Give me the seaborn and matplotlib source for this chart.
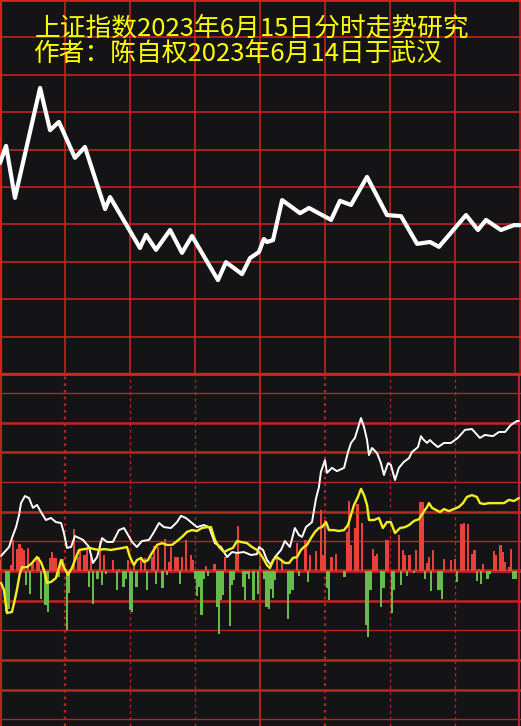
import numpy as np
import pandas as pd
import matplotlib
matplotlib.use("Agg")
import matplotlib.pyplot as plt
import seaborn as sns

# ---- title text ----
TITLE_1 = "上证指数2023年6月15日分时走势研究"
TITLE_2 = "作者：陈自权2023年6月14日于武汉"

# ---- top panel: smoothed index path (minutes after open, grid units) ----
top_minutes = [0, 2.8, 6.9, 18.5, 23.1, 27.2, 34.6, 39.2, 48.5, 50.8,
               64.6, 67.4, 72.0, 78.5, 84.0, 88.6, 100.6, 104.3, 111.7, 115.4,
               119.5, 121.8, 123.2, 126.0, 130.2, 138.5, 142.6, 152.8, 156.9, 162.0,
               169.4, 178.6, 185.1, 192.5, 198.5, 202.6, 215.1, 220.6, 224.3, 231.2,
               237.2, 240.0]
top_values = [5.64, 6.10, 4.71, 7.65, 6.52, 6.74, 5.78, 6.07, 4.41, 4.73,
              3.37, 3.72, 3.32, 3.85, 3.24, 3.69, 2.51, 2.99, 2.67, 3.10,
              3.26, 3.61, 3.53, 3.58, 4.65, 4.30, 4.44, 4.12, 4.63, 4.52,
              5.27, 4.25, 4.22, 3.48, 3.53, 3.40, 4.25, 3.85, 4.12, 3.85,
              3.98, 3.98]

# ---- bottom panel: white line ----
white_minutes = [0.5, 4.2, 5.5, 7.4, 8.8, 9.7, 11.5, 13.4, 15.2, 17.1,
                 18.9, 21.2, 23.5, 25.8, 28.2, 29.5, 30.9, 32.8, 34.6, 38.3,
                 41.1, 42.9, 44.8, 47.1, 49.4, 52.1, 54.9, 57.2, 58.6, 60.9,
                 63.2, 65.5, 68.8, 71.1, 73.4, 75.7, 78.9, 81.7, 83.5, 85.8,
                 88.1, 90.9, 94.1, 96.5, 99.2, 102.0, 104.8, 107.1, 109.4, 112.6,
                 115.8, 118.6, 119.5, 121.4, 123.2, 125.1, 126.9, 129.7, 131.5, 133.8,
                 136.1, 138.0, 139.4, 141.2, 144.0, 145.8, 147.2, 148.1, 150.0, 150.9,
                 153.2, 155.5, 158.8, 160.6, 162.0, 163.8, 165.2, 166.6, 168.0, 169.4,
                 170.3, 171.7, 174.0, 175.8, 177.2, 179.1, 180.4, 182.3, 184.1, 186.4,
                 188.8, 190.1, 192.9, 194.3, 195.2, 197.1, 198.4, 199.8, 202.1, 204.9,
                 208.1, 211.3, 214.6, 217.8, 221.5, 223.8, 227.5, 230.3, 233.1, 235.8,
                 238.6, 239.5]
white_values = [0.51, 0.81, 1.11, 1.48, 1.89, 2.29, 2.53, 2.46, 2.13, 2.23,
                1.99, 1.72, 1.79, 1.65, 1.62, 1.28, 0.78, 0.81, 1.18, 1.05,
                0.81, 0.27, 0.47, 1.11, 0.98, 0.98, 1.38, 1.45, 1.28, 0.98,
                0.81, 1.01, 1.05, 1.32, 1.62, 1.48, 1.45, 1.65, 1.86, 1.79,
                1.65, 1.48, 1.55, 1.48, 0.94, 0.81, 0.47, 0.64, 0.61, 0.64,
                0.54, 0.57, 0.81, 0.71, 0.37, 0.20, 0.47, 0.71, 1.01, 0.81,
                1.45, 1.21, 1.15, 1.48, 1.65, 2.43, 2.83, 3.34, 3.74, 3.31,
                3.48, 3.37, 3.48, 4.01, 4.32, 4.49, 4.82, 5.16, 4.86, 4.42,
                3.91, 4.15, 3.98, 3.64, 3.24, 3.64, 3.58, 3.07, 3.48, 3.68,
                3.81, 4.01, 4.18, 4.55, 4.45, 4.32, 4.42, 4.32, 4.18, 4.32,
                4.32, 4.49, 4.76, 4.79, 4.49, 4.59, 4.55, 4.69, 4.69, 4.93,
                5.06, 5.06]

# ---- bottom panel: yellow line ----
yellow_minutes = [0.5, 1.8, 3.2, 5.5, 6.5, 7.8, 9.2, 10.2, 12.5, 14.8,
                  17.1, 18.9, 20.3, 21.7, 23.5, 25.8, 28.2, 29.5, 31.4, 33.2,
                  35.1, 36.5, 39.2, 41.1, 43.4, 45.7, 48.0, 51.2, 53.5, 56.8,
                  58.6, 60.0, 61.8, 63.2, 65.1, 66.5, 68.3, 70.1, 72.5, 74.8,
                  77.1, 79.4, 81.7, 84.0, 86.3, 88.6, 90.9, 93.2, 95.5, 97.4,
                  99.2, 101.1, 103.4, 105.2, 107.5, 109.4, 111.2, 114.0, 116.3, 118.6,
                  119.5, 121.4, 123.2, 124.6, 126.0, 127.8, 129.7, 131.5, 133.4, 135.2,
                  137.1, 138.9, 140.3, 141.7, 143.5, 145.4, 147.2, 148.6, 150.5, 151.8,
                  154.1, 156.4, 158.8, 160.6, 162.0, 163.4, 165.2, 166.6, 168.0, 169.4,
                  170.3, 172.6, 174.9, 176.7, 178.6, 180.4, 182.3, 184.6, 186.9, 188.8,
                  191.1, 193.4, 195.2, 197.1, 198.0, 199.4, 201.2, 203.1, 204.9, 207.2,
                  209.5, 211.8, 213.7, 215.5, 217.8, 220.1, 221.5, 223.4, 225.7, 228.0,
                  230.3, 232.6, 234.9, 237.2, 239.5]
yellow_values = [-0.40, -0.64, -1.42, -1.38, -1.08, -0.64, -0.07, 0.13, 0.13, 0.27,
                 0.47, 0.30, 0.03, -0.40, -0.37, -0.24, 0.37, 0.13, -0.13, 0.10,
                 0.47, 0.71, 0.74, 0.78, 0.74, 0.71, 0.74, 0.71, 0.74, 0.78,
                 0.81, 0.47, 0.20, 0.37, 0.44, 0.30, 0.37, 0.61, 0.88, 0.94,
                 0.88, 0.88, 1.01, 1.15, 1.32, 1.38, 1.35, 1.45, 1.48, 1.48,
                 1.05, 0.81, 0.64, 0.71, 0.78, 1.01, 0.98, 0.94, 0.81, 0.71,
                 0.64, 0.44, 0.20, 0.10, 0.37, 0.47, 0.37, 0.27, 0.27, 0.44,
                 0.47, 0.71, 0.81, 0.88, 1.11, 1.32, 1.45, 1.48, 1.65, 1.38,
                 1.38, 1.35, 1.38, 1.55, 1.89, 2.23, 2.50, 2.77, 2.56, 2.23,
                 1.72, 1.72, 1.79, 1.45, 1.65, 1.65, 1.28, 1.45, 1.48, 1.55,
                 1.69, 1.75, 1.96, 2.16, 2.29, 2.13, 2.06, 1.99, 2.09, 2.02,
                 2.09, 2.16, 2.29, 2.50, 2.56, 2.50, 2.29, 2.26, 2.29, 2.29,
                 2.29, 2.29, 2.40, 2.36, 2.46]

# ---- bottom panel: per-minute bars (red up / green down) ----
bar_minutes = [0, 3, 4, 5, 6, 8, 9, 10, 11, 12,
               13, 14, 15, 17, 18, 19, 20, 21, 22, 23,
               24, 25, 26, 27, 28, 29, 31, 32, 34, 36,
               37, 39, 40, 41, 42, 43, 45, 46, 47, 48,
               49, 52, 54, 55, 57, 58, 59, 60, 61, 62,
               63, 65, 67, 68, 70, 71, 72, 73, 75, 76,
               77, 78, 79, 81, 82, 83, 84, 86, 88, 89,
               90, 91, 92, 93, 94, 95, 96, 99, 100, 101,
               102, 103, 104, 106, 107, 108, 109, 110, 112, 113,
               114, 115, 117, 119, 120, 122, 123, 124, 125, 126,
               127, 128, 130, 133, 134, 135, 137, 138, 141, 142,
               143, 146, 148, 149, 150, 151, 152, 153, 155, 159,
               160, 161, 162, 164, 165, 167, 169, 170, 171, 172,
               173, 174, 176, 177, 178, 179, 181, 182, 184, 185,
               186, 187, 188, 189, 191, 192, 194, 195, 196, 197,
               198, 199, 200, 202, 203, 204, 205, 208, 210, 211,
               213, 214, 216, 218, 219, 220, 221, 222, 223, 225,
               226, 228, 229, 231, 232, 233, 235, 236, 237, 238]
bar_values = [0.38, -1.38, -1.27, 0.19, 1.03, 0.75, 0.92, 0.79, 0.72, -0.48,
              0.79, -0.76, 0.25, 0.42, 0.47, -0.93, 0.13, -1.16, -1.38, 0.45,
              0.64, 0.45, 0.45, -0.20, 0.36, 0.42, -2.00, -0.74, 1.41, 0.47,
              0.72, 0.55, 0.75, -0.54, 0.56, -1.10, -0.26, 0.98, -0.48, 0.53,
              -0.11, 0.36, -0.65, 0.08, -0.54, -0.26, 0.36, -1.33, -1.38, 0.16,
              -0.54, 0.47, 0.45, -0.65, 0.47, 0.83, -0.43, 0.81, -0.56, 1.09,
              -0.15, 0.30, 0.81, 0.47, 0.47, -0.43, 0.47, 1.03, 0.53, 0.36,
              -0.26, -0.84, -0.54, -1.50, -0.26, 0.16, -0.18, 0.25, -1.21, -2.11,
              -0.99, -0.82, 0.47, -1.86, -0.48, -0.31, 0.56, 1.51, -0.54, -0.99,
              -0.11, -0.26, -0.99, -0.79, 0.16, -0.26, -1.21, -1.27, -0.60, -0.91,
              -0.31, 0.47, 0.36, -1.61, -0.76, -0.65, 0.94, -0.18, 1.03, -0.37,
              0.53, 0.67, 2.05, 0.53, 1.71, -0.56, -0.99, 0.47, 0.56, -0.20,
              1.32, 2.36, 0.87, 1.46, 2.27, 1.62, -1.83, -2.23, -0.65, 0.75,
              0.49, 0.56, -1.21, -0.57, 1.03, 1.03, -1.42, -0.63, 1.20, -0.48,
              0.70, 0.53, -0.18, 0.53, -0.07, 0.72, 2.33, 2.33, -0.26, 0.27,
              0.47, -0.67, 0.70, -0.65, -0.65, -0.93, 0.39, 0.36, 0.39, -0.37,
              1.60, 1.62, 1.60, 0.56, 0.72, -0.35, 0.08, -0.43, 0.25, -0.26,
              -0.11, 0.67, 0.53, 0.87, 0.64, 0.30, 0.13, 0.75, -0.26, -0.26]

# colours
TOP_BG = "#211c1a"
BOT_BG = "#141417"
TOP_GRID = "#d8211f"
BOT_GRID = "#b52521"
UP_RED = "#e8403a"
DOWN_GREEN = "#66bb4a"
LINE_YELLOW = "#f2ee1f"

sns.set_theme(style="dark", rc={"axes.facecolor": BOT_BG, "figure.facecolor": BOT_BG})
plt.rcParams["font.family"] = ["Noto Sans CJK SC", "DejaVu Sans"]

W, H = 521, 726
fig = plt.figure(figsize=(W / 100, H / 100), dpi=100)
x_max = 240 * W / 520

# ---------------- top panel ----------------
ax_top = fig.add_axes([0, 352 / H, 1, 374 / H])
ax_top.set_facecolor(TOP_BG)
ax_top.set_xlim(0, x_max)
ax_top.set_ylim(0, 10)
for level in range(1, 10):
    ax_top.axhline(level, color=TOP_GRID, lw=1.1, zorder=1)
for m in range(30, 241, 30):
    ax_top.axvline(m, color=TOP_GRID, lw=1.1, zorder=1)
ax_top.axvline(0.3, color=TOP_GRID, lw=1.6, zorder=1)
ax_top.axhline(10, color=TOP_GRID, lw=2.0, zorder=1)
ax_top.axhline(0, color=TOP_GRID, lw=2.4, zorder=1)
sns.lineplot(x=top_minutes, y=top_values, color="white", lw=3.0, ax=ax_top,
             sort=False, estimator=None, zorder=3)
ax_top.lines[-1].set_solid_joinstyle("round")
ax_top.lines[-1].set_solid_capstyle("round")
ax_top.set_axis_off()

# ---------------- bottom panel ----------------
ax_bot = fig.add_axes([0, 0, 1, 352 / H])
ax_bot.set_facecolor(BOT_BG)

bars = pd.DataFrame({"minute": bar_minutes, "value": bar_values})
bars["side"] = np.where(bars["value"] >= 0, "up", "down")
sns.barplot(data=bars, x="minute", y="value", hue="side",
            palette={"up": UP_RED, "down": DOWN_GREEN}, native_scale=True,
            dodge=False, saturation=1, errorbar=None,
            legend=False, ax=ax_bot, zorder=2, linewidth=0)
# one minute wide bars, like the terminal's volume-style columns
for patch in ax_bot.patches:
    centre = patch.get_x() + patch.get_width() / 2
    patch.set_width(1.0)
    patch.set_x(centre - 0.5)
    patch.set_antialiased(False)

thin = [6, 3, 1, -2, -5]
for level in range(-5, 7):
    ax_bot.axhline(level, color=BOT_GRID, lw=1.0 if level in thin else 1.9, zorder=1)
ax_bot.axhline(0, color=BOT_GRID, lw=2.6, zorder=1.5)
for m in [30, 150]:
    ax_bot.axvline(m, color=BOT_GRID, lw=1.6, ls=(0, (1.2, 1.8)), zorder=1)
for m in [60, 90, 180, 210]:
    ax_bot.axvline(m, color=BOT_GRID, lw=0.9, ls=(0, (2.5, 2.5)), zorder=1)
ax_bot.axvline(0.4, color=BOT_GRID, lw=1.5, zorder=1)
ax_bot.axvline(120, color=BOT_GRID, lw=1.4, zorder=1)
ax_bot.axvline(239.5, color=BOT_GRID, lw=1.5, zorder=1)

sns.lineplot(x=white_minutes, y=white_values, color="white", lw=1.4, ax=ax_bot,
             sort=False, estimator=None, zorder=3)
sns.lineplot(x=yellow_minutes, y=yellow_values, color=LINE_YELLOW, lw=1.7, ax=ax_bot,
             sort=False, estimator=None, zorder=4)

ax_bot.set_xlim(0, x_max)
ax_bot.set_ylim(-(726 - 571) / 29.64, (571 - 374) / 29.64)
ax_bot.set_axis_off()

# boundary between the panels
fig.add_artist(plt.Line2D([0, 1], [352 / H, 352 / H], color=TOP_GRID, lw=2.0,
                          transform=fig.transFigure))

# ---------------- title ----------------
fig.text(35 / W, 1 - 29 / H, TITLE_1, color="#ffff00", fontsize=18.5,
         ha="left", va="center")
fig.text(33 / W, 1 - 54 / H, TITLE_2, color="#ffff00", fontsize=18.5,
         ha="left", va="center")

fig.savefig("out.png", dpi=100, facecolor=BOT_BG)
